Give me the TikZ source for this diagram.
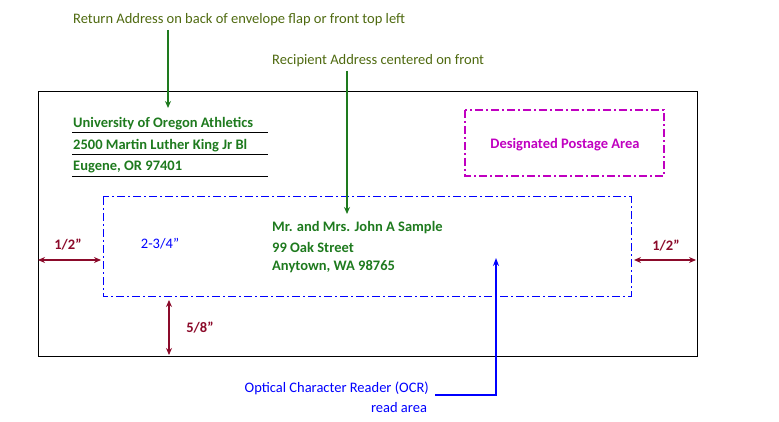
\documentclass[tikz,border=0pt]{standalone}
\usepackage{fontspec}
\setmainfont{Carlito}
\usetikzlibrary{arrows.meta}
\definecolor{olive}{HTML}{4F6A10}
\definecolor{grn}{HTML}{1E7A1E}
\definecolor{dred}{HTML}{8B0A2A}
\definecolor{mag}{HTML}{C000C0}
\newcommand{\qq}{\symbol{34}}
\begin{document}
\begin{tikzpicture}[x=1pt,y=-1pt,
  lbl/.style={font=\fontsize{14.5}{16}\selectfont,inner sep=0pt},
  addr/.style={font=\fontsize{14.5}{16}\selectfont\bfseries,text=grn,inner sep=0pt,anchor=west},
  dim/.style={dred,line width=1.6pt,{Stealth[length=7pt,width=6pt]}-{Stealth[length=7pt,width=6pt]}},
  dimlbl/.style={font=\fontsize{14.5}{16}\selectfont\bfseries,text=dred,inner sep=0pt},
  garrow/.style={grn,line width=1.5pt,-{Stealth[length=7pt,width=6pt]}},
  dd/.style={dash pattern=on 8pt off 3pt on 2pt off 3pt}]
\useasboundingbox (0,0) rectangle (779,422);
\draw[black] (38,91) rectangle (697,356);
\draw[blue,dd,line width=1pt] (103,197) rectangle (631,296);
\draw[mag,dd,line width=1.3pt] (465,110) rectangle (664,176);
\node[font=\fontsize{14.5}{16}\selectfont\bfseries,text=mag] (post) at (565,145) {Designated Postage Area};
\node[addr] (r1) at (73,124) {University of Oregon Athletics};
\node[addr] (r2) at (73,146) {2500 Martin Luther King Jr Bl};
\node[addr] (r3) at (73,167) {Eugene, OR 97401};
\draw (72,132) -- (268,132) (72,154) -- (268,154) (72,176) -- (268,176);
\node[lbl,text=olive,anchor=west] (retl) at (73,20) {Return Address on back of envelope flap or front top left};
\node[lbl,text=olive,anchor=west] (recl) at (272,61) {Recipient Address centered on front};
\coordinate (ra) at (168,108);
\coordinate (rs) at (168,30);
\draw[garrow] (rs) -- (ra);
\coordinate (ca) at (347,214);
\coordinate (cs) at (347,71);
\draw[garrow] (cs) -- (ca);
\node[addr] (a1) at (272,228) {Mr. and Mrs. John A Sample};
\node[addr] (a2) at (272,247) {99 Oak Street};
\node[addr] (a3) at (272,267) {Anytown, WA 98765};
\coordinate (l1) at (38,260); \coordinate (l2) at (101,260);
\draw[dim] (l1) -- (l2);
\node[dimlbl] (lh) at (68,245) {1/2\qq};
\coordinate (g1) at (634,260); \coordinate (g2) at (696,260);
\draw[dim] (g1) -- (g2);
\node[dimlbl] (rh) at (666,246) {1/2\qq};
\coordinate (v1) at (169,300); \coordinate (v2) at (169,355);
\draw[dim] (v1) -- (v2);
\node[dimlbl] (vh) at (200,328) {5/8\qq};
\node[lbl,text=blue] (w) at (160,244) {2-3/4\qq};
\node[lbl,text=blue,anchor=east] (ocr) at (429,388) {Optical Character Reader (OCR)};
\node[lbl,text=blue] (ra2) at (399,408) {read area};
\coordinate (o1) at (435,395); \coordinate (o2) at (496,258);
\draw[blue,line width=1.6pt,-{Stealth[length=8pt,width=6pt]}] (o1) -| (o2);
\end{tikzpicture}
\end{document}
